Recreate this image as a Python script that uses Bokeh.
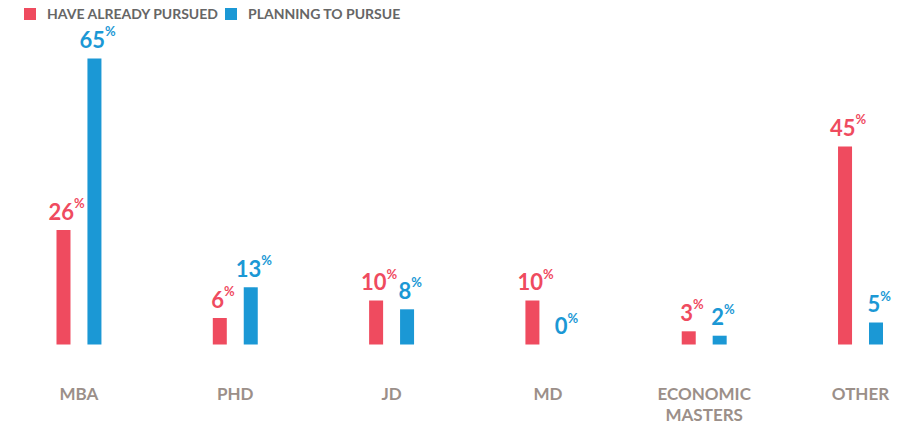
from bokeh.plotting import figure
from bokeh.models import ColumnDataSource, Range1d, Legend, LegendItem
from bokeh.transform import dodge
from bokeh.embed import file_html
from bokeh.resources import INLINE
from bokeh.core.properties import value

categories = ["MBA", "PHD", "JD", "MD", "ECONOMIC\nMASTERS", "OTHER"]
already_pursued = [26, 6, 10, 10, 3, 45]
planning_to_pursue = [65, 13, 8, 0, 2, 5]
series_names = ["HAVE ALREADY PURSUED", "PLANNING TO PURSUE"]

RED = "#EF4B5F"
BLUE = "#1B98D5"
CAT_COLOR = "#9B8F89"
FONT = "Lato"

idx = list(range(len(categories)))
src = ColumnDataSource(dict(
    x=idx,
    base=[0] * len(categories),
    cat=categories,
    a=already_pursued,
    b=planning_to_pursue,
    a_txt=[str(v) for v in already_pursued],
    b_txt=[str(v) for v in planning_to_pursue],
    a_off=[6.25 * len(str(v)) - 2 for v in already_pursued],
    b_off=[6.25 * len(str(v)) - 2 for v in planning_to_pursue],
    pct=["%"] * len(categories),
))

p = figure(width=913, height=424, x_range=Range1d(-0.502, 5.339), y_range=Range1d(-18.18, 78.18),
           output_backend="svg", toolbar_location=None,
           min_border_left=0, min_border_right=0, min_border_top=0, min_border_bottom=0)
p.outline_line_color = None
p.grid.visible = False
p.axis.visible = False
p.background_fill_color = "white"

DX = 0.099
W = 0.0896
ra = p.vbar(x=dodge("x", -DX), top="a", width=W, source=src, color=RED, line_color=None)
rb = p.vbar(x=dodge("x", DX), top="b", width=W, source=src, color=BLUE, line_color=None)

for col, txt, off, dx, color in [("a", "a_txt", "a_off", -DX, RED), ("b", "b_txt", "b_off", DX, BLUE)]:
    p.text(x=dodge("x", dx), y=col, text=txt, source=src, x_offset=off, y_offset=-19,
           text_align="right", text_baseline="alphabetic", text_font=value(FONT),
           text_font_style="bold", text_font_size="22px", text_color=color)
    p.text(x=dodge("x", dx), y=col, text="pct", source=src, x_offset=off, y_offset=-27,
           text_align="left", text_baseline="alphabetic", text_font=value(FONT),
           text_font_style="bold", text_font_size="13px", text_color=color)

# category labels under the baseline
p.text(x="x", y="base", text="cat", source=src, y_offset=38,
       text_align="center", text_baseline="top", text_font=value(FONT),
       text_font_style="bold", text_font_size="17px", text_color=CAT_COLOR,
       text_line_height=1.0)

legend = Legend(items=[LegendItem(label=series_names[0], renderers=[ra]),
                       LegendItem(label=series_names[1], renderers=[rb])],
                orientation="horizontal", location=(22, 402),
                glyph_width=15, glyph_height=15, label_standoff=10, spacing=5,
                padding=0, margin=0, border_line_color=None, background_fill_alpha=0,
                label_text_font=FONT, label_text_font_style="bold",
                label_text_font_size="14px", label_text_color="#666666")
p.add_layout(legend)

open("out.html", "w").write(file_html(p, INLINE))
